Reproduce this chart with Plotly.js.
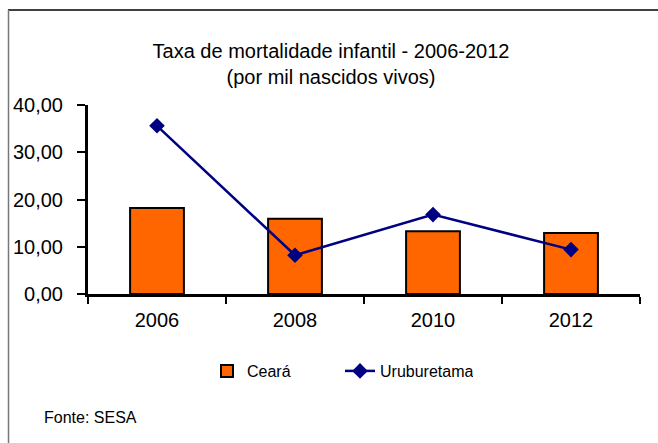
<!DOCTYPE html>
<html>
<head>
<meta charset="utf-8">
<script src="https://cdn.plot.ly/plotly-3.0.1.min.js"></script>
<style>html,body{margin:0;padding:0;background:#fff;}#chart{width:658px;height:443px;}</style>
</head>
<body>
<div id="chart"></div>
<script>
const years = ['2006', '2008', '2010', '2012'];
const ceara = [18.2, 15.9, 13.3, 12.9];
const uruburetama = [35.6, 8.2, 16.8, 9.4];
const yTicks = [0, 10, 20, 30, 40];

const FONT = 'Liberation Sans, Arial, sans-serif';

// pixel -> paper helpers (plot area: x 88..640, y 105..294)
const L = 88, R = 640, T = 105, B = 294, W = 658, H = 443;
const px = v => (v - L) / (R - L);
const py = v => (B - v) / (B - T);

const traces = [
  {
    type: 'bar', name: 'Ceará', x: years, y: ceara,
    marker: {color: '#FF6600', line: {color: '#000000', width: 2}},
    hoverinfo: 'none'
  },
  {
    type: 'scatter', mode: 'lines+markers', name: 'Uruburetama', x: years, y: uruburetama,
    line: {color: '#000080', width: 2.5},
    marker: {symbol: 'diamond', size: 12, color: '#000080'},
    hoverinfo: 'none'
  }
];

const layout = {
  width: W, height: H,
  margin: {l: L, r: W - R, t: T, b: H - B, pad: 0},
  paper_bgcolor: '#ffffff', plot_bgcolor: '#ffffff',
  separators: ',.',
  font: {family: FONT, color: '#000000', size: 20},
  bargap: 0.61,
  showlegend: true,
  title: {
    text: 'Taxa de mortalidade infantil - 2006-2012<br>(por mil nascidos vivos)',
    font: {family: FONT, size: 20, color: '#000000'},
    x: 331 / W, xanchor: 'center', xref: 'container',
    y: 1 - 58 / H, yanchor: 'middle', yref: 'container'
  },
  xaxis: {
    type: 'category', categoryorder: 'array', categoryarray: years,
    showline: true, linecolor: '#000000', linewidth: 3,
    ticks: 'outside', tickson: 'boundaries', ticklen: 7, tickwidth: 2, tickcolor: '#000000',
    showgrid: false, zeroline: false,
    tickfont: {family: FONT, size: 20, color: '#000000'},
    ticklabelstandoff: 6,
    fixedrange: true
  },
  yaxis: {
    range: [0, 40], tickvals: yTicks, tickformat: '.2f',
    showline: true, linecolor: '#000000', linewidth: 3,
    ticks: 'outside', ticklen: 8, tickwidth: 2, tickcolor: '#000000',
    showgrid: false, zeroline: false,
    tickfont: {family: FONT, size: 20, color: '#000000'},
    ticklabelstandoff: 10,
    fixedrange: true
  },
  legend: {
    orientation: 'h',
    x: px(207), xanchor: 'left',
    y: py(371), yanchor: 'middle',
    entrywidth: 88, entrywidthmode: 'pixels',
    font: {family: FONT, size: 16, color: '#000000'},
    bgcolor: 'rgba(0,0,0,0)',
    itemclick: false, itemdoubleclick: false
  },
  shapes: [
    {type: 'line', xref: 'paper', yref: 'paper', x0: px(8), x1: px(660), y0: py(10), y1: py(10),
     line: {color: '#000000', width: 1.5}},
    {type: 'line', xref: 'paper', yref: 'paper', x0: px(8.5), x1: px(8.5), y0: py(10), y1: py(445),
     line: {color: '#777777', width: 1.5}}
  ],
  annotations: [
    {text: 'Fonte: SESA', xref: 'paper', yref: 'paper', x: px(42), y: py(417),
     xanchor: 'left', yanchor: 'middle', showarrow: false,
     font: {family: FONT, size: 16, color: '#000000'}}
  ]
};

Plotly.newPlot('chart', traces, layout, {displayModeBar: false, staticPlot: true});
</script>
</body>
</html>
